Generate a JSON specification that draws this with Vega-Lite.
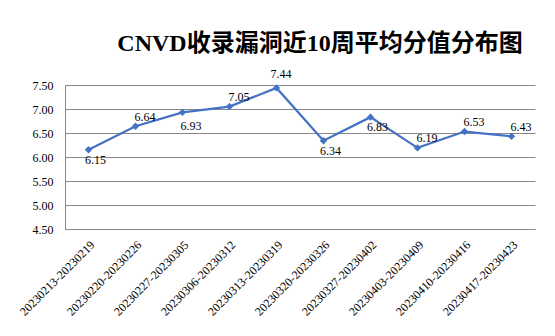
{
  "$schema": "https://vega.github.io/schema/vega-lite/v6.json",
  "autosize": "none",
  "width": 470,
  "height": 144,
  "padding": {"left": 65, "top": 85, "right": 20, "bottom": 107},
  "background": "white",
  "title": {
    "text": "CNVD收录漏洞近10周平均分值分布图",
    "font": "Liberation Serif, Noto Sans CJK SC",
    "fontSize": 24,
    "fontWeight": "bold",
    "color": "#000000",
    "anchor": "middle",
    "frame": "group",
    "dx": 20,
    "dy": 43,
    "baseline": "alphabetic",
    "offset": 36
  },
  "data": {
    "values": [
      {"week": "20230213-20230219", "score": 6.15},
      {"week": "20230220-20230226", "score": 6.64},
      {"week": "20230227-20230305", "score": 6.93},
      {"week": "20230306-20230312", "score": 7.05},
      {"week": "20230313-20230319", "score": 7.44},
      {"week": "20230320-20230326", "score": 6.34},
      {"week": "20230327-20230402", "score": 6.83},
      {"week": "20230403-20230409", "score": 6.19},
      {"week": "20230410-20230416", "score": 6.53},
      {"week": "20230417-20230423", "score": 6.43}
    ]
  },
  "encoding": {
    "x": {
      "field": "week",
      "type": "ordinal",
      "sort": null,
      "scale": {"type": "point", "padding": 0.5},
      "axis": {
        "title": null,
        "labelAngle": -45,
        "labelFont": "Liberation Serif",
        "labelFontSize": 12,
        "labelColor": "#000000",
        "ticks": false,
        "labelPadding": 10,
        "domainColor": "#898989",
        "grid": false
      }
    },
    "y": {
      "field": "score",
      "type": "quantitative",
      "scale": {"domain": [4.5, 7.5], "nice": false, "zero": false},
      "axis": {
        "title": null,
        "values": [4.5, 5, 5.5, 6, 6.5, 7, 7.5],
        "format": ".2f",
        "labelFont": "Liberation Serif",
        "labelFontSize": 12,
        "labelColor": "#000000",
        "ticks": false,
        "labelPadding": 12,
        "domainColor": "#898989",
        "gridColor": "#898989",
        "grid": true
      }
    }
  },
  "layer": [
    {
      "mark": {"type": "line", "color": "#4472C4", "strokeWidth": 2.25, "point": {"shape": "diamond", "filled": true, "size": 55, "color": "#4472C4"}}
    },
    {
      "transform": [{"filter": {"field": "week", "oneOf": ["20230213-20230219", "20230320-20230326", "20230327-20230402"]}}],
      "mark": {"type": "text", "font": "Liberation Serif", "fontSize": 12, "color": "#000000", "baseline": "middle", "align": "center", "dx": 7, "dy": 10},
      "encoding": {"text": {"field": "score", "type": "quantitative", "format": ".2f"}}
    },
    {
      "transform": [{"filter": {"field": "week", "oneOf": ["20230227-20230305"]}}],
      "mark": {"type": "text", "font": "Liberation Serif", "fontSize": 12, "color": "#000000", "baseline": "middle", "align": "center", "dx": 8.5, "dy": 14},
      "encoding": {"text": {"field": "score", "type": "quantitative", "format": ".2f"}}
    },
    {
      "transform": [{"filter": {"field": "week", "oneOf": ["20230220-20230226", "20230306-20230312", "20230403-20230409", "20230410-20230416", "20230417-20230423"]}}],
      "mark": {"type": "text", "font": "Liberation Serif", "fontSize": 12, "color": "#000000", "baseline": "middle", "align": "center", "dx": 9.5, "dy": -9.5},
      "encoding": {"text": {"field": "score", "type": "quantitative", "format": ".2f"}}
    },
    {
      "transform": [{"filter": {"field": "week", "oneOf": ["20230313-20230319"]}}],
      "mark": {"type": "text", "font": "Liberation Serif", "fontSize": 12, "color": "#000000", "baseline": "middle", "align": "center", "dx": 4.5, "dy": -13.5},
      "encoding": {"text": {"field": "score", "type": "quantitative", "format": ".2f"}}
    }
  ],
  "config": {
    "view": {"stroke": null}
  }
}
